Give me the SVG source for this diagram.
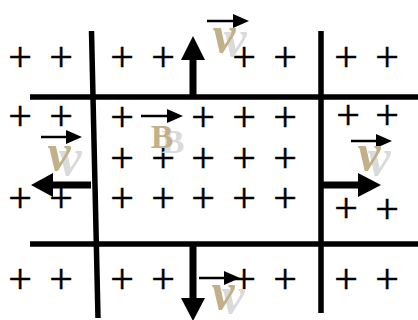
<svg xmlns="http://www.w3.org/2000/svg" width="418" height="320" viewBox="0 0 418 320">
<style>
.p{font-family:"Liberation Serif",serif;font-size:42px;fill:#000;stroke:#000;stroke-width:0.5;text-anchor:middle}
.v{font-family:"Liberation Serif",serif;font-style:italic;font-weight:bold;font-size:52px;text-anchor:middle}
.t{fill:#c2b08a}
.s{fill:#dadada}
.b{font-family:"Liberation Serif",serif;font-weight:bold;font-size:34px;text-anchor:middle}
.ln{stroke:#000;stroke-width:5.5;fill:none}
.sh{stroke:#000;stroke-width:7;fill:none}
.vec{stroke:#000;stroke-width:2.5;fill:none}
</style>
<g id="field">
<text class="p" x="20" y="71">+</text><text class="p" x="61" y="71">+</text><text class="p" x="122" y="71">+</text><text class="p" x="163" y="71">+</text><text class="p" x="244" y="71">+</text><text class="p" x="285" y="71">+</text><text class="p" x="346" y="71">+</text><text class="p" x="387" y="71">+</text>
<text class="p" x="20" y="130">+</text><text class="p" x="61" y="130">+</text><text class="p" x="122" y="131">+</text><text class="p" x="203" y="131">+</text><text class="p" x="244" y="131">+</text><text class="p" x="285" y="131">+</text><text class="p" x="348" y="129">+</text><text class="p" x="387" y="129">+</text>
<text class="p" x="122" y="172">+</text><text class="p" x="163" y="172">+</text><text class="p" x="203" y="172">+</text><text class="p" x="244" y="172">+</text><text class="p" x="285" y="172">+</text>
<text class="p" x="20" y="212">+</text><text class="p" x="61" y="212">+</text><text class="p" x="122" y="212">+</text><text class="p" x="163" y="212">+</text><text class="p" x="203" y="212">+</text><text class="p" x="244" y="212">+</text><text class="p" x="285" y="212">+</text><text class="p" x="346" y="222">+</text><text class="p" x="387" y="223">+</text>
<text class="p" x="20" y="293">+</text><text class="p" x="61" y="293">+</text><text class="p" x="122" y="293">+</text><text class="p" x="163" y="293">+</text><text class="p" x="244" y="293">+</text><text class="p" x="285" y="293">+</text><text class="p" x="346" y="293">+</text><text class="p" x="387" y="293">+</text>
</g>
<g id="rails">
<line class="ln" x1="91.5" y1="31" x2="98" y2="318"/>
<line class="ln" x1="321" y1="31" x2="321" y2="313"/>
<line class="ln" x1="30" y1="97" x2="418" y2="97"/>
<line class="ln" x1="30" y1="244" x2="418" y2="244"/>
</g>
<g id="connectors">
<line class="sh" x1="193" y1="97" x2="193" y2="59"/><polygon points="181,60 193,36 205,60"/>
<line class="sh" x1="193" y1="244" x2="193" y2="299"/><polygon points="181,298 193,321 205,298"/>
<line class="sh" x1="91" y1="185" x2="52" y2="185"/><polygon points="53,173 31,185 53,197"/>
<line class="sh" x1="323" y1="185" x2="359" y2="185"/><polygon points="358,173 381,185 358,197"/>
<line class="vec" x1="207" y1="21" x2="234" y2="21"/><polygon points="233,14 249,21 233,28"/>
<line class="vec" x1="41" y1="137" x2="67" y2="137"/><polygon points="66,130 82,137 66,144"/>
<line class="vec" x1="351" y1="141" x2="377" y2="141"/><polygon points="376,134 392,141 376,148"/>
<line class="vec" x1="199" y1="278" x2="225" y2="278"/><polygon points="224,271 240,278 224,285"/>
<line class="vec" x1="141" y1="116" x2="168" y2="116"/><polygon points="167,109 183,116 167,123"/>
</g>
<g id="labels">
<text class="b s" x="173" y="153">B</text><text class="b t" x="162" y="148">B</text>
<text class="v s" x="235" y="56">v</text><text class="v t" x="224" y="52">v</text>
<text class="v s" x="70" y="175">v</text><text class="v t" x="59" y="170">v</text>
<text class="v s" x="379" y="175">v</text><text class="v t" x="369" y="170">v</text>
<text class="v s" x="233" y="313">v</text><text class="v t" x="223" y="309">v</text>
</g>
</svg>
